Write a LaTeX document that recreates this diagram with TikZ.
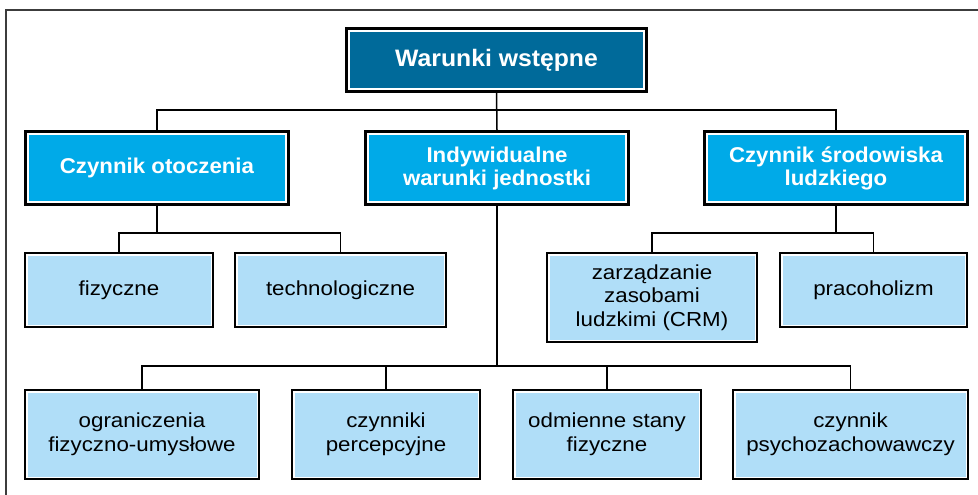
\documentclass[tikz,border=0pt]{standalone}
\usepackage{fontspec}
\setmainfont{Liberation Sans}
\newfontfamily\regf[FakeStretch=1.1]{Liberation Sans}
\newfontfamily\boldf[FakeStretch=1.04]{Liberation Sans}
\definecolor{topcol}{RGB}{0,106,154}
\definecolor{midcol}{RGB}{0,170,232}
\definecolor{lightcol}{RGB}{176,222,248}
\definecolor{framecol}{RGB}{60,60,60}
\tikzset{
  darkbox/.style={rectangle, inner sep=0pt, align=center, draw=black, line width=3pt, text=white,
    font=\boldf\bfseries,
    path picture={\draw[white,line width=1.8pt] ([shift={(2.7pt,2.7pt)}]path picture bounding box.south west) rectangle ([shift={(-2.7pt,-2.7pt)}]path picture bounding box.north east);}},
  topbox/.style={darkbox, fill=topcol, font=\boldf\bfseries\fontsize{23.8}{27}\selectfont},
  midbox/.style={darkbox, fill=midcol, font=\boldf\bfseries\fontsize{21.4}{23}\selectfont},
  lightbox/.style={rectangle, inner sep=0pt, align=center, draw=black, line width=2.2pt, fill=lightcol, text=black,
    font=\regf\fontsize{20.3}{23.7}\selectfont,
    path picture={\draw[white,line width=1.2pt] ([shift={(1.9pt,1.9pt)}]path picture bounding box.south west) rectangle ([shift={(-1.9pt,-1.9pt)}]path picture bounding box.north east);}},
  conn/.style={draw=black, line width=1.5pt},
  framel/.style={draw=framecol, line width=1.2pt}
}
\begin{document}
\begin{tikzpicture}[x=1pt,y=-1pt]
\useasboundingbox (0,0) rectangle (978,495);
% frame
\coordinate (fTR) at (978,10);
\coordinate (fTL) at (6,10);
\coordinate (fBL) at (6,495);
\draw[framel] (fTR) -- (fTL) -- (fBL);
% nodes
\node[topbox, minimum width=300pt, minimum height=63pt] (top) at (496.5,60) {Warunki wstępne};
\node[midbox, minimum width=263pt, minimum height=73pt] (otocz) at (157,168) {Czynnik otoczenia};
\node[midbox, minimum width=263pt, minimum height=73pt] (indy) at (497,168) {Indywidualne\\warunki jednostki};
\node[midbox, minimum width=263pt, minimum height=73pt] (srod) at (836,168) {Czynnik środowiska\\ludzkiego};
\node[lightbox, minimum width=188pt, minimum height=74pt] (fiz) at (119,290) {fizyczne};
\node[lightbox, minimum width=211pt, minimum height=74pt] (tech) at (340.5,290) {technologiczne};
\node[lightbox, minimum width=210pt, minimum height=89pt] (zarz) at (652,297.5) {zarządzanie\\zasobami\\ludzkimi (CRM)};
\node[lightbox, minimum width=187pt, minimum height=74pt] (prac) at (873.5,290) {pracoholizm};
\node[lightbox, minimum width=234pt, minimum height=89pt] (ogr) at (142,434.5) {ograniczenia\\fizyczno-umysłowe};
\node[lightbox, minimum width=188pt, minimum height=89pt] (czyn) at (386,434.5) {czynniki\\percepcyjne};
\node[lightbox, minimum width=188pt, minimum height=89pt] (odm) at (607,434.5) {odmienne stany\\fizyczne};
\node[lightbox, minimum width=235pt, minimum height=89pt] (psy) at (850.5,434.5) {czynnik\\psychozachowawczy};
% junctions
\coordinate (j1) at (496.5,110);
\coordinate (j2) at (157,233);
\coordinate (j3) at (836,233);
\coordinate (j4) at (497,366);
% connectors
\draw[conn] (top.south) -- (indy.north);
\draw[conn] (otocz.north) |- (j1) -| (srod.north);
\draw[conn] (otocz.south) -- (j2);
\draw[conn] (fiz.north) |- (j2) -| (tech.north);
\draw[conn] (srod.south) -- (j3);
\draw[conn] (zarz.north) |- (j3) -| (prac.north);
\draw[conn] (indy.south) -- (j4);
\draw[conn] (ogr.north) |- (j4) -| (psy.north);
\draw[conn] (czyn.north) |- (j4);
\draw[conn] (odm.north) |- (j4);
\end{tikzpicture}
\end{document}
